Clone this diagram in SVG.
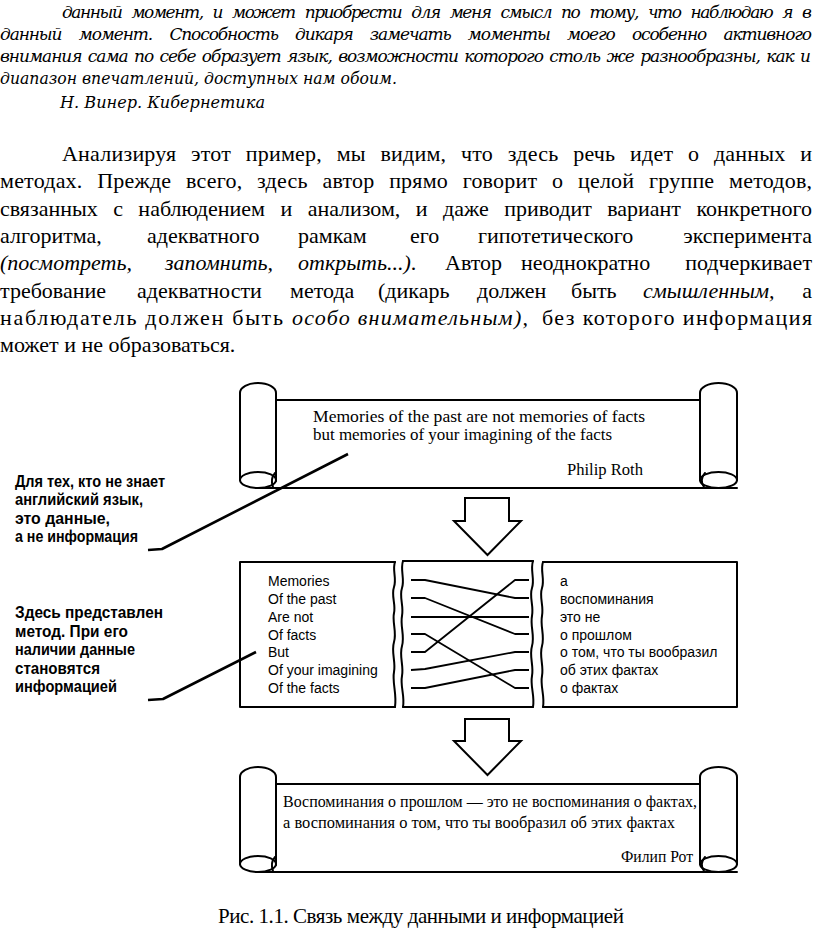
<svg xmlns="http://www.w3.org/2000/svg" width="816" height="934" viewBox="0 0 816 934">
<style>
.it{font-family:"DejaVu Serif","Liberation Serif",serif;font-style:italic;font-size:17px;fill:#000}
.body{font-family:"Liberation Serif","Times New Roman",serif;font-size:22px;fill:#000}
.bi{font-style:italic}
.q{font-family:"Liberation Serif","Times New Roman",serif;font-size:17px;fill:#000}
.sans{font-family:"Liberation Sans",Arial,sans-serif;font-size:14px;fill:#000}
.lbl{font-family:"Liberation Sans Narrow","Liberation Sans",Arial,sans-serif;font-weight:bold;font-size:17px;fill:#000}
.ln{fill:none;stroke:#000;stroke-width:2;stroke-linejoin:round;stroke-linecap:round}
.lead{fill:none;stroke:#000;stroke-width:2.6;stroke-linejoin:round}
.x{fill:none;stroke:#000;stroke-width:1.8;stroke-linejoin:round}
.arr{fill:#fff;stroke:#000;stroke-width:2;stroke-linejoin:miter}
</style>
<defs>
<g id="scrollShape">
<path class="ln" d="M240,480 L240,393 A18,10 0 0 1 276,393 L276,481"/>
<ellipse class="ln" cx="258" cy="480" rx="18" ry="8"/>
<path class="ln" d="M275,473 Q270,479 273,487"/>
<path class="ln" d="M276,400 L700,400"/>
<path class="ln" d="M256,488 L737,488"/>
<path class="ln" d="M700,480 L700,393 A18.5,10 0 0 1 737,393 L737,480"/>
<ellipse class="ln" cx="718.5" cy="480" rx="18.5" ry="8"/>
<path class="ln" d="M705,473 Q699,480 704,487"/>
</g>
</defs>

<g id="epigraph">
<text class="it" x="62" y="18" textLength="750" lengthAdjust="spacing" style="word-spacing:6px">данный момент, и может приобрести для меня смысл по тому, что наблюдаю я в</text>
<text class="it" x="0" y="40" textLength="812" lengthAdjust="spacing" style="word-spacing:13px">данный момент. Способность дикаря замечать моменты моего особенно активного</text>
<text class="it" x="0" y="62" textLength="811" lengthAdjust="spacing" style="word-spacing:2px">внимания сама по себе образует язык, возможности которого столь же разнообразны, как и</text>
<text class="it" x="0" y="84" textLength="397" lengthAdjust="spacingAndGlyphs">диапазон впечатлений, доступных нам обоим.</text>
<text class="it" x="60" y="108" textLength="205" lengthAdjust="spacingAndGlyphs">Н. Винер. Кибернетика</text>
</g>

<g id="paragraph">
<text class="body" x="62" y="161" textLength="750" lengthAdjust="spacing" style="word-spacing:9px">Анализируя этот пример, мы видим, что здесь речь идет о данных и</text>
<text class="body" x="0" y="188" textLength="812" lengthAdjust="spacing" style="word-spacing:9px">методах. Прежде всего, здесь автор прямо говорит о целой группе методов,</text>
<text class="body" x="0" y="215.5" textLength="812" lengthAdjust="spacing" style="word-spacing:10px">связанных с наблюдением и анализом, и даже приводит вариант конкретного</text>
<text class="body" y="243"><tspan x="0">алгоритма,</tspan><tspan x="147">адекватного</tspan><tspan x="298">рамкам</tspan><tspan x="410">его</tspan><tspan x="478">гипотетического</tspan></text>
<text class="body" x="812" y="243" text-anchor="end">эксперимента</text>
<text class="body" y="270"><tspan x="0" class="bi">(посмотреть,</tspan><tspan x="165" class="bi">запомнить,</tspan><tspan x="298" class="bi">открыть...)</tspan><tspan>.</tspan><tspan x="445">Автор</tspan><tspan x="521">неоднократно</tspan></text>
<text class="body" x="812" y="270" text-anchor="end">подчеркивает</text>
<text class="body" y="297.5"><tspan x="0">требование</tspan><tspan x="137">адекватности</tspan><tspan x="290">метода</tspan><tspan x="378">(дикарь</tspan><tspan x="477">должен</tspan><tspan x="571">быть</tspan><tspan x="643" class="bi">смышленным,</tspan></text>
<text class="body" x="812" y="297.5" text-anchor="end">а</text>
<text class="body" x="0" y="325" textLength="283" lengthAdjust="spacing">наблюдатель должен быть</text>
<text class="body bi" x="292" y="325" textLength="236" lengthAdjust="spacing">особо внимательным),</text>
<text class="body" x="542" y="325" textLength="270" lengthAdjust="spacing">без которого информация</text>
<text class="body" x="0" y="352">может и не образоваться.</text>
</g>

<g id="scroll-top">
<use href="#scrollShape"/>
<text class="q" x="313" y="422" textLength="332" lengthAdjust="spacingAndGlyphs">Memories of the past are not memories of facts</text>
<text class="q" x="313" y="440" textLength="299" lengthAdjust="spacingAndGlyphs">but memories of your imagining of the facts</text>
<text class="q" x="567" y="475" textLength="76" lengthAdjust="spacingAndGlyphs">Philip Roth</text>
</g>

<g id="label-data">
<text class="lbl" x="15" y="487" textLength="150" lengthAdjust="spacingAndGlyphs">Для тех, кто не знает</text>
<text class="lbl" x="15" y="505" textLength="128" lengthAdjust="spacingAndGlyphs">английский язык,</text>
<text class="lbl" x="15" y="523.5" textLength="95" lengthAdjust="spacingAndGlyphs">это данные,</text>
<text class="lbl" x="15" y="542" textLength="123" lengthAdjust="spacingAndGlyphs">а не информация</text>
</g>

<g id="label-method">
<text class="lbl" x="15" y="618" textLength="148" lengthAdjust="spacingAndGlyphs">Здесь представлен</text>
<text class="lbl" x="15" y="636.5" textLength="113" lengthAdjust="spacingAndGlyphs">метод. При его</text>
<text class="lbl" x="15" y="655" textLength="120" lengthAdjust="spacingAndGlyphs">наличии данные</text>
<text class="lbl" x="15" y="673.5" textLength="85" lengthAdjust="spacingAndGlyphs">становятся</text>
<text class="lbl" x="15" y="692" textLength="102" lengthAdjust="spacingAndGlyphs">информацией</text>
</g>

<g id="box-left">
<path class="ln" d="M395,562 L240,562 L240,707 L395,707"/>
<path class="ln" d="M395,562 C392,570 397,578 394,587 C391,596 396,604 394,613 C392,622 397,632 394,642 C391,652 396,662 394,672 C392,682 397,694 395,707"/>
<g class="sans">
<text x="268" y="586">Memories</text>
<text x="268" y="604">Of the past</text>
<text x="268" y="622">Are not</text>
<text x="268" y="640">Of facts</text>
<text x="268" y="657">But</text>
<text x="268" y="675">Of your imagining</text>
<text x="268" y="693">Of the facts</text>
</g>
</g>

<g id="box-middle">
<path class="ln" d="M403,561 L533,561 M403,707 L533,707"/>
<path class="ln" d="M403,561 C400,570 405,579 402,588 C399,597 404,606 402,616 C400,626 405,636 402,646 C399,656 404,666 402,676 C400,686 405,696 403,707"/>
<path class="ln" d="M533,561 C530,570 535,579 532,588 C529,597 534,606 532,616 C530,626 535,636 532,646 C529,656 534,666 532,676 C530,686 535,696 533,707"/>
</g>

<g id="box-right">
<path class="ln" d="M543,562 L737,562 L737,707 L543,707"/>
<path class="ln" d="M543,562 C540,570 545,579 542,588 C539,597 544,606 542,616 C540,626 545,636 542,646 C539,656 544,666 542,676 C540,686 545,696 543,707"/>
<g class="sans">
<text x="560" y="586">а</text>
<text x="560" y="604">воспоминания</text>
<text x="560" y="622">это не</text>
<text x="560" y="640">о прошлом</text>
<text x="560" y="657">о том, что ты вообразил</text>
<text x="560" y="675">об этих фактах</text>
<text x="560" y="693">о фактах</text>
</g>
</g>

<g id="scroll-bottom">
<use href="#scrollShape" transform="translate(0,384)"/>
<text class="q" x="283" y="807" textLength="414" lengthAdjust="spacingAndGlyphs">Воспоминания о прошлом — это не воспоминания о фактах,</text>
<text class="q" x="283" y="828" textLength="392" lengthAdjust="spacingAndGlyphs">а воспоминания о том, что ты вообразил об этих фактах</text>
<text class="q" x="621" y="862" textLength="72" lengthAdjust="spacingAndGlyphs">Филип Рот</text>
</g>

<g id="connectors">
<polygon class="arr" points="465,498 509,498 509,521 521,521 487.5,555 454,521 465,521"/>
<polygon class="arr" points="465,719 509,719 509,741 521,741 487.5,775 454,741 465,741"/>
<path class="lead" d="M148,550 L162,549 L348,454"/>
<path class="lead" d="M148,700 L163,699 L256,652"/>
<polyline class="x" points="411,580 425,580 515,598 529,598"/>
<polyline class="x" points="411,598 425,598 515,634 529,634"/>
<polyline class="x" points="411,617 529,617"/>
<polyline class="x" points="411,634 425,634 515,688 529,688"/>
<polyline class="x" points="411,652 425,652 515,580 529,580"/>
<polyline class="x" points="411,670 425,669 515,652 529,652"/>
<polyline class="x" points="411,688 425,688 515,670 529,670"/>
</g>

<g id="caption">
<text class="body" x="218" y="923" style="font-size:21px" textLength="406" lengthAdjust="spacing">Рис. 1.1. Связь между данными и информацией</text>
</g>
</svg>
